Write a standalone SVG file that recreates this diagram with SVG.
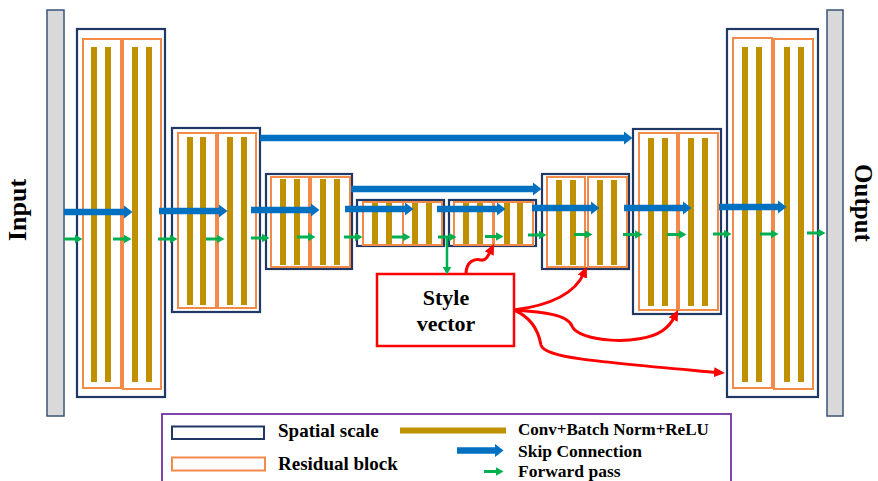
<svg xmlns="http://www.w3.org/2000/svg" width="878" height="481" viewBox="0 0 878 481">
<style>
.scale{fill:#ffffff;stroke:#1f3864;stroke-width:2.2}
.res{fill:none;stroke:#f28a4a;stroke-width:2}
.conv{fill:#bf9000}
.io{fill:#d9d9d9;stroke:#3b5378;stroke-width:1.5}
.skip{stroke:#0070c0;stroke-width:6.5;fill:none;marker-end:url(#hb)}
.fwd{stroke:#00b050;stroke-width:3;fill:none;marker-end:url(#hg)}
.sty{stroke:#ff0000;stroke-width:3;fill:none;marker-end:url(#hr)}
.t{font-family:"Liberation Serif","Times New Roman",serif;font-weight:bold;fill:#000}
</style>
<defs>
<marker id="hb" markerUnits="userSpaceOnUse" markerWidth="9" markerHeight="14" refX="0.5" refY="7" orient="auto"><path d="M0,0 L9,7 L0,14 z" fill="#0070c0"/></marker>
<marker id="hg" markerUnits="userSpaceOnUse" markerWidth="8" markerHeight="9" refX="0.5" refY="4.5" orient="auto"><path d="M0,0 L8,4.5 L0,9 z" fill="#00b050"/></marker>
<marker id="hr" markerUnits="userSpaceOnUse" markerWidth="11" markerHeight="10" refX="4" refY="5" orient="auto"><path d="M0,0 L11,5 L0,10 z" fill="#ff0000"/></marker>
</defs>
<rect width="878" height="481" fill="#ffffff"/>

<g id="input">
<rect class="io" x="47" y="10" width="17" height="406"/>
<text class="t" font-size="26" text-anchor="middle" transform="translate(26,210) rotate(-90)">Input</text>
</g>
<g id="output">
<rect class="io" x="827" y="10" width="16" height="406"/>
<text class="t" font-size="25" text-anchor="middle" transform="translate(855,203) rotate(90)">Output</text>
</g>

<g id="scale1">
<rect class="scale" x="77" y="29" width="88" height="368"/>
<rect class="res" x="83" y="39" width="38" height="349"/>
<rect class="res" x="123" y="39" width="38" height="350"/>
<rect class="conv" x="91" y="47" width="6" height="335"/>
<rect class="conv" x="105" y="47" width="6" height="335"/>
<rect class="conv" x="132" y="47" width="6" height="335"/>
<rect class="conv" x="146" y="47" width="6" height="335"/>
</g>
<g id="scale2">
<rect class="scale" x="172" y="128" width="88" height="184"/>
<rect class="res" x="178" y="133" width="38" height="175"/>
<rect class="res" x="218" y="133" width="38" height="175"/>
<rect class="conv" x="187" y="137" width="6" height="168"/>
<rect class="conv" x="200" y="137" width="6" height="168"/>
<rect class="conv" x="227" y="137" width="6" height="168"/>
<rect class="conv" x="241" y="137" width="6" height="168"/>
</g>
<g id="scale3">
<rect class="scale" x="266" y="174" width="86" height="95"/>
<rect class="res" x="271" y="177" width="38" height="90"/>
<rect class="res" x="311" y="177" width="39" height="90"/>
<rect class="conv" x="280" y="179" width="6" height="86"/>
<rect class="conv" x="294" y="179" width="6" height="86"/>
<rect class="conv" x="320" y="179" width="6" height="86"/>
<rect class="conv" x="334" y="179" width="6" height="86"/>
</g>
<g id="scale4">
<rect class="scale" x="357" y="200" width="87" height="46"/>
<rect class="res" x="363" y="202" width="40" height="43"/>
<rect class="res" x="403" y="202" width="39" height="43"/>
<rect class="conv" x="372" y="203" width="6" height="41"/>
<rect class="conv" x="386" y="203" width="6" height="41"/>
<rect class="conv" x="412" y="203" width="6" height="41"/>
<rect class="conv" x="426" y="203" width="6" height="41"/>
</g>
<g id="scale5">
<rect class="scale" x="449" y="200" width="87" height="46"/>
<rect class="res" x="454" y="202" width="39" height="43"/>
<rect class="res" x="494" y="202" width="39" height="43"/>
<rect class="conv" x="463" y="203" width="6" height="41"/>
<rect class="conv" x="477" y="203" width="6" height="41"/>
<rect class="conv" x="504" y="203" width="6" height="41"/>
<rect class="conv" x="517" y="203" width="6" height="41"/>
</g>
<g id="scale6">
<rect class="scale" x="542" y="174" width="87" height="95"/>
<rect class="res" x="547" y="177" width="38" height="90"/>
<rect class="res" x="588" y="177" width="39" height="90"/>
<rect class="conv" x="556" y="180" width="6" height="85"/>
<rect class="conv" x="570" y="180" width="6" height="85"/>
<rect class="conv" x="597" y="180" width="6" height="85"/>
<rect class="conv" x="611" y="180" width="6" height="85"/>
</g>
<g id="scale7">
<rect class="scale" x="633" y="129" width="88" height="185"/>
<rect class="res" x="639" y="133" width="38" height="177"/>
<rect class="res" x="679" y="133" width="39" height="177"/>
<rect class="conv" x="648" y="138" width="6" height="168"/>
<rect class="conv" x="662" y="138" width="6" height="168"/>
<rect class="conv" x="688" y="138" width="6" height="168"/>
<rect class="conv" x="702" y="138" width="6" height="168"/>
</g>
<g id="scale8">
<rect class="scale" x="727" y="29" width="91" height="368"/>
<rect class="res" x="733" y="38" width="39" height="350"/>
<rect class="res" x="774" y="39" width="39" height="350"/>
<rect class="conv" x="742" y="47" width="6" height="335"/>
<rect class="conv" x="756" y="47" width="6" height="335"/>
<rect class="conv" x="784" y="47" width="6" height="335"/>
<rect class="conv" x="798" y="47" width="6" height="335"/>
</g>

<g id="style-vector">
<rect x="377" y="274" width="137" height="72" fill="#ffffff" stroke="#ff0000" stroke-width="2.5"/>
<text class="t" font-size="22" text-anchor="middle" x="446" y="305">Style</text>
<text class="t" font-size="22" text-anchor="middle" x="446" y="331">vector</text>
</g>

<g id="connectors">
<line class="skip" x1="260" y1="138" x2="624" y2="138"/>
<line class="skip" x1="351" y1="189" x2="533" y2="189"/>
<line class="skip" x1="64" y1="212" x2="124" y2="212"/>
<line class="skip" x1="159" y1="211" x2="219" y2="211"/>
<line class="skip" x1="251" y1="210" x2="311" y2="210"/>
<line class="skip" x1="345" y1="209" x2="405" y2="209"/>
<line class="skip" x1="437" y1="209" x2="497" y2="209"/>
<line class="skip" x1="532" y1="208" x2="591" y2="208"/>
<line class="skip" x1="624" y1="208" x2="683" y2="208"/>
<line class="skip" x1="719" y1="207" x2="778" y2="207"/>

<line class="fwd" x1="64" y1="239" x2="75" y2="239"/>
<line class="fwd" x1="113" y1="239" x2="124" y2="239"/>
<line class="fwd" x1="158" y1="239" x2="170" y2="239"/>
<line class="fwd" x1="206" y1="239" x2="217" y2="239"/>
<line class="fwd" x1="251" y1="238" x2="262" y2="238"/>
<line class="fwd" x1="297" y1="237" x2="308" y2="237"/>
<line class="fwd" x1="344" y1="237" x2="355" y2="237"/>
<line class="fwd" x1="392" y1="237" x2="403" y2="237"/>
<line class="fwd" x1="438" y1="237" x2="449" y2="237"/>
<line class="fwd" x1="485" y1="236.5" x2="496" y2="236.5"/>
<line class="fwd" x1="528" y1="235" x2="539" y2="235"/>
<line class="fwd" x1="574" y1="234.5" x2="585" y2="234.5"/>
<line class="fwd" x1="623" y1="234.5" x2="635" y2="234.5"/>
<line class="fwd" x1="667" y1="234.5" x2="679" y2="234.5"/>
<line class="fwd" x1="713" y1="234" x2="724" y2="234"/>
<line class="fwd" x1="760" y1="234" x2="771" y2="234"/>
<line class="fwd" x1="807" y1="233" x2="818" y2="233"/>
<line x1="447" y1="237" x2="447" y2="267" stroke="#00b050" stroke-width="2.5" marker-end="url(#hg)"/>

<path class="sty" d="M466,274 C466,262 474,258 481,260 C486,261 488,256 491,250"/>
<path class="sty" d="M514,310 C545,306 574,296 584,273"/>
<path class="sty" d="M514,310 C545,312 568,315 572,326 C578,342 640,346 662,331 C668,327 672,322 675,316"/>
<path class="sty" d="M514,310 C528,316 538,328 541,345 C544,358 600,362 718,372.5"/>
</g>

<g id="legend">
<rect x="162" y="414" width="569" height="80" fill="none" stroke="#7030a0" stroke-width="1.8"/>
<rect x="172" y="426.5" width="92" height="12.5" fill="none" stroke="#1f3864" stroke-width="2"/>
<rect x="172" y="457.5" width="93" height="13" fill="none" stroke="#f28a4a" stroke-width="2"/>
<text class="t" font-size="19" x="278" y="437">Spatial scale</text>
<text class="t" font-size="19" x="278" y="470">Residual block</text>
<rect class="conv" x="400" y="427.5" width="106" height="6"/>
<text class="t" font-size="17" x="518" y="434.5">Conv+Batch Norm+ReLU</text>
<line class="skip" x1="457" y1="450.5" x2="495" y2="450.5"/>
<text class="t" font-size="17.5" x="518" y="456.5">Skip Connection</text>
<line class="fwd" x1="484" y1="471.5" x2="496" y2="471.5"/>
<text class="t" font-size="17.5" x="518" y="476.5">Forward pass</text>
</g>
</svg>
